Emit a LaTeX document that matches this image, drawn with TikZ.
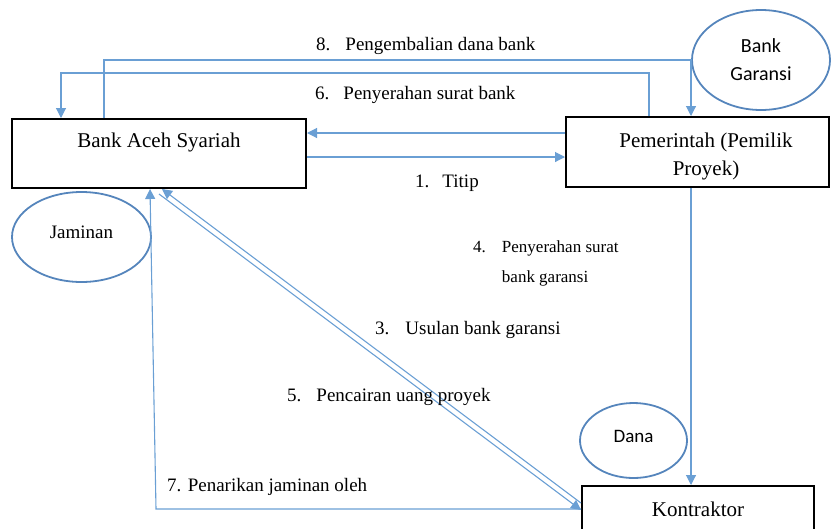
\documentclass[tikz,border=0pt]{standalone}
\usepackage{fontspec}
\setmainfont{Liberation Serif}
\newfontfamily\calib{Carlito}
\usetikzlibrary{arrows.meta,shapes.geometric}
\definecolor{lineblue}{HTML}{6A9FD4}
\definecolor{ellblue}{HTML}{5585BC}
\begin{document}
\begin{tikzpicture}[x=1pt,y=-1pt,
  conn/.style={draw=lineblue, line width=1.1pt, -{Triangle[width=10pt,length=10pt]}},
  box/.style={draw=black, line width=2pt, rectangle, inner sep=0pt},
  ell/.style={draw=ellblue, line width=1.8pt, ellipse, inner sep=0pt},
  lbl/.style={font=\fontsize{19}{23}\selectfont, anchor=west, inner sep=0pt},
  boxfont/.style={font=\fontsize{21}{28}\selectfont},
]
\useasboundingbox (0,0) rectangle (832,528);

% boxes
\node[box, minimum width=294pt, minimum height=69pt,
  label={[boxfont, yshift=11.5pt]center:Bank Aceh Syariah}] (bank) at (159,153.5) {};
\node[box, minimum width=263pt, minimum height=70pt,
  label={[boxfont, align=center, xshift=8.5pt, yshift=-4pt]center:{Pemerintah (Pemilik\\Proyek)}}] (pem) at (697.5,152) {};
\node[box, minimum width=232pt, minimum height=46pt, boxfont] (kon) at (698,509) {Kontraktor};

% ellipses
\node[ell, minimum width=138pt, minimum height=100pt, align=center,
  font=\calib\fontsize{20}{28}\selectfont] (gar) at (761,60) {Bank\\Garansi};
\node[ell, minimum width=139pt, minimum height=90pt,
  label={[font=\fontsize{19}{23}\selectfont, yshift=5pt]center:Jaminan}] (jam) at (81.5,237) {};
\node[ell, minimum width=107pt, minimum height=75pt,
  label={[font=\calib\fontsize{19}{23}\selectfont, yshift=4pt]center:Dana}] (dana) at (633.5,440.5) {};

% helper coordinates on the boxes
\coordinate (b8) at ([xshift=93pt]bank.north west);
\coordinate (b6) at ([xshift=50pt]bank.north west);
\coordinate (p8) at ([xshift=126pt]pem.north west);
\coordinate (p6) at ([xshift=84pt]pem.north west);
\coordinate (p4) at ([xshift=126pt]pem.south west);
\coordinate (pw2) at ([yshift=19pt]pem.west);
\coordinate (be1) at ([yshift=-3.5pt]bank.east);
\coordinate (b7) at ([xshift=139pt]bank.south west);
\coordinate (b3) at ([xshift=151pt]bank.south west);
\coordinate (b5) at ([xshift=148pt,yshift=-5pt]bank.south west);
\coordinate (k3) at ([yshift=6pt]kon.west);
\coordinate (k5) at ([yshift=-1pt]kon.west);

% connectors
\draw[conn] (b8) -- ++(0,-58) -| (p8);
\draw[conn] (p6) -- ++(0,-43) -| (b6);
\draw[conn] (pw2) -- (pw2 -| bank.east);
\draw[conn] (be1) -- (be1 -| pem.west);
\draw[conn] (p4) -- (p4 |- kon.north);
\draw[conn] (kon.west) -- ++(-425,0) -- (b7);
\draw[conn] (k3) -- (b3);
\draw[conn] (b5) -- (k5);

% labels
\node[lbl] (l8) at (316,46) {8.\hspace{15pt}Pengembalian dana bank};
\node[lbl] (l6) at (315,95) {6.\hspace{14pt}Penyerahan surat bank};
\node[lbl] (l1) at (415,183) {1.\hspace{13pt}Titip};
\node[lbl, font=\fontsize{17}{30}\selectfont, align=left] (l4) at (473,263)
  {4.\hspace{16pt}Penyerahan surat\\\hspace*{28.75pt}bank garansi};
\node[lbl] (l3) at (375,330) {3.\hspace{16pt}Usulan bank garansi};
\node[lbl] (l5) at (287,397) {5.\hspace{15pt}Pencairan uang proyek};
\node[lbl] (l7) at (167,487) {7. Penarikan jaminan oleh};
\end{tikzpicture}
\end{document}
